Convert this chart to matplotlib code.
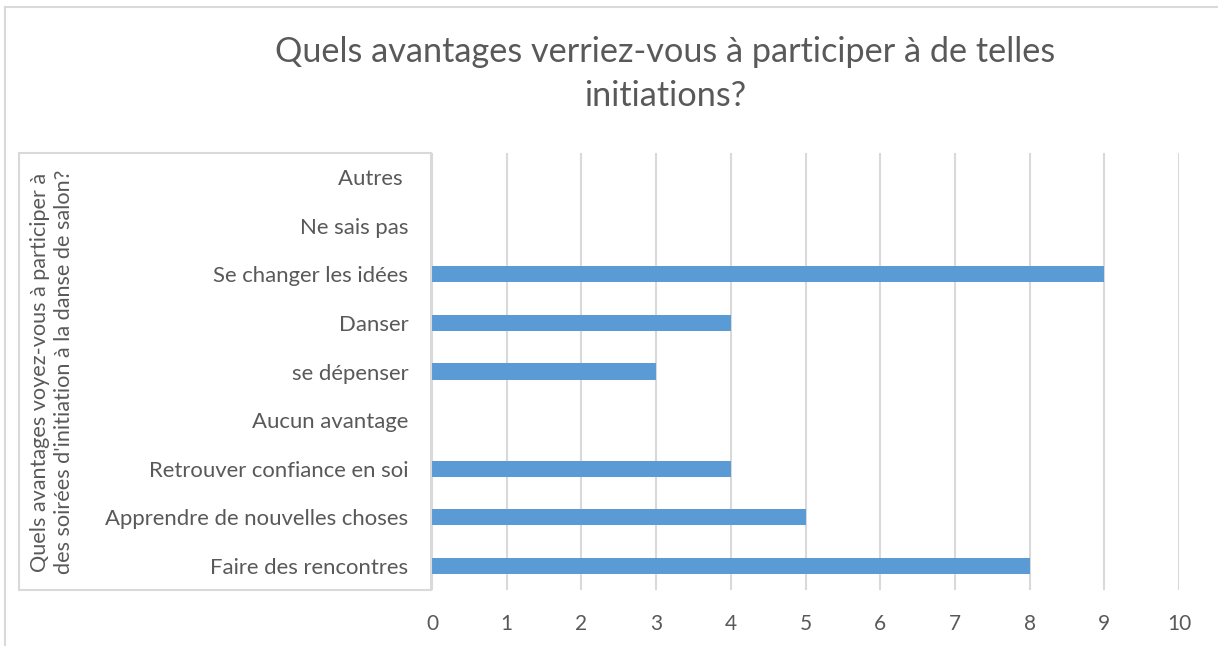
import matplotlib
matplotlib.use("Agg")
import matplotlib.pyplot as plt
from matplotlib.patches import Rectangle
from matplotlib.lines import Line2D

# data, bottom category first (as drawn in the chart)
categories = [
    "Faire des rencontres",
    "Apprendre de nouvelles choses",
    "Retrouver confiance en soi",
    "Aucun avantage",
    "se dépenser",
    "Danser",
    "Se changer les idées",
    "Ne sais pas",
    "Autres ",
]
counts = [8, 5, 4, 0, 3, 4, 9, 0, 0]
x_ticks = [0, 1, 2, 3, 4, 5, 6, 7, 8, 9, 10]

title = "Quels avantages verriez-vous à participer à de telles\ninitiations?"
ylabel = "Quels avantages voyez-vous à participer à\ndes soirées d'initiation à la danse de salon?"

TEXT = "#595959"
GRID = "#D9D9D9"
BAR = "#5B9BD5"
W, H = 1218, 646

plt.rcParams["font.family"] = ["Lato", "DejaVu Sans"]

fig = plt.figure(figsize=(W / 100, H / 100), dpi=100)
fig.patch.set_facecolor("white")

# outer chart border (cropped on right/bottom)
fig.add_artist(Line2D([5 / W, 5 / W], [0, 1 - 7 / H], transform=fig.transFigure, color=GRID, lw=1.5))
fig.add_artist(Line2D([5 / W, 1], [1 - 7 / H, 1 - 7 / H], transform=fig.transFigure, color=GRID, lw=1.5))

# axis title box
bx0, bx1, by0, by1 = 19, 431, 153, 590
fig.add_artist(Rectangle((bx0 / W, 1 - by1 / H), (bx1 - bx0) / W, (by1 - by0) / H,
                         transform=fig.transFigure, fill=False, edgecolor=GRID, lw=1.5))

ax = fig.add_axes([432 / W, 1 - 590 / H, (1179 - 432) / W, (590 - 153) / H])
ypos = list(range(len(categories)))
ax.barh(ypos, counts, height=0.33, color=BAR, zorder=3)
ax.set_xlim(0, 10)
ax.set_ylim(-0.5, len(categories) - 0.5)
ax.set_xticks(x_ticks)
ax.set_xticklabels([str(t) for t in x_ticks])
ax.set_yticks(ypos)
ax.set_yticklabels(categories)
ax.tick_params(axis="x", length=0, pad=17, labelsize=15, labelcolor=TEXT)
ax.tick_params(axis="y", length=0, pad=17, labelsize=15.9, labelcolor=TEXT)
ax.grid(axis="x", color=GRID, lw=1.5, zorder=0)
for s in ax.spines.values():
    s.set_visible(False)

fig.text(665 / W, 1 - 74 / H, title, ha="center", va="center", fontsize=24.7,
         color=TEXT, linespacing=1.5)
fig.text(52 / W, 1 - 372 / H, ylabel, ha="center", va="center", rotation=90,
         fontsize=15.6, color=TEXT, linespacing=1.25)

fig.savefig("out.png", dpi=100)
